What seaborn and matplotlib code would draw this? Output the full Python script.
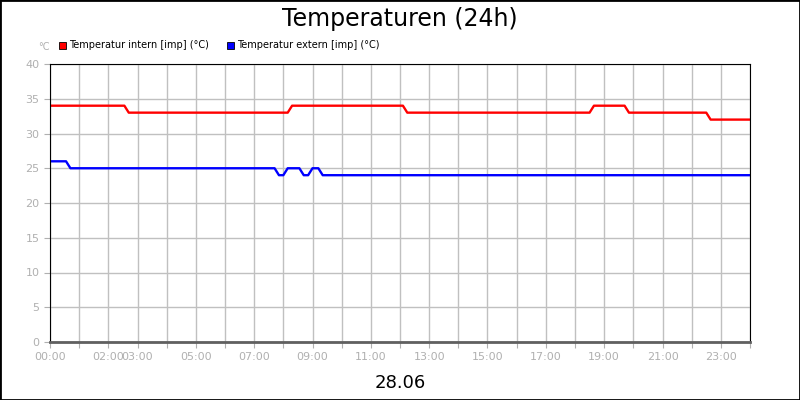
import numpy as np
import pandas as pd
import seaborn as sns
import matplotlib.pyplot as plt
from matplotlib.patches import Rectangle

# hours of day / temperature readings (step points)
hours_intern = [0, 2.55, 2.7, 8.15, 8.3, 12.1, 12.25, 18.5, 18.65, 19.7, 19.85, 22.5, 22.65, 24]
temp_intern = [34, 34, 33, 33, 34, 34, 33, 33, 34, 34, 33, 33, 32, 32]
hours_extern = [0, 0.55, 0.7, 7.7, 7.85, 8.0, 8.15, 8.55, 8.7, 8.85, 9.0, 9.2, 9.35, 9.5, 24]
temp_extern = [26, 26, 25, 25, 24, 24, 25, 25, 24, 24, 25, 25, 24, 24, 24]
tick_hours = [0, 2, 3, 5, 7, 9, 11, 13, 15, 17, 19, 21, 23]

df = pd.concat([
    pd.DataFrame({'h': hours_intern, 't': temp_intern, 's': 'Temperatur intern [imp] (°C)'}),
    pd.DataFrame({'h': hours_extern, 't': temp_extern, 's': 'Temperatur extern [imp] (°C)'}),
])

fig = plt.figure(figsize=(8, 4), dpi=100)
ax = fig.add_axes([50/800, 58/400, 700/800, 278/400])
sns.lineplot(data=df, x='h', y='t', hue='s', palette=['#ff0000', '#0000ff'],
             linewidth=1.7, legend=False, ax=ax, sort=False, estimator=None)
ax.set_xlim(0, 24)
ax.set_ylim(0, 40)
ax.set_xticks(range(25), minor=False)
ax.set_xticklabels([f'{h:02d}:00' if h in tick_hours else '' for h in range(25)])
ax.set_yticks(range(0, 41, 5))
ax.grid(True, color='#c0c0c0', linewidth=1)
ax.set_axisbelow(True)
ax.tick_params(colors='#b0b0b0', labelcolor='#b0b0b0', labelsize=8, length=4)
for s in ax.spines.values():
    s.set_color('black')
ax.spines['bottom'].set_color('#606060')
ax.spines['bottom'].set_linewidth(2)
ax.set_xlabel('28.06', fontsize=13, color='black', labelpad=8)
ax.set_ylabel('')
fig.text(0.5, 1 - 19/400, 'Temperaturen (24h)', ha='center', va='center', fontsize=17)
fig.text(38/800, 1 - 47/400, '°C', color='#b0b0b0', fontsize=7, ha='left', va='center')
for x0, c, lab in [(59, '#ff0000', 'Temperatur intern [imp] (°C)'), (227, '#0000ff', 'Temperatur extern [imp] (°C)')]:
    fig.patches.append(Rectangle((x0/800, 1 - 49/400), 7/800, 7/400, transform=fig.transFigure,
                                 facecolor=c, edgecolor='black', linewidth=0.6))
    fig.text((x0 + 10)/800, 1 - 45/400, lab, fontsize=7, va='center')
fig.patches.append(Rectangle((0, 0), 1, 1, transform=fig.transFigure, fill=False,
                             edgecolor='black', linewidth=2))
fig.savefig('out.png')
